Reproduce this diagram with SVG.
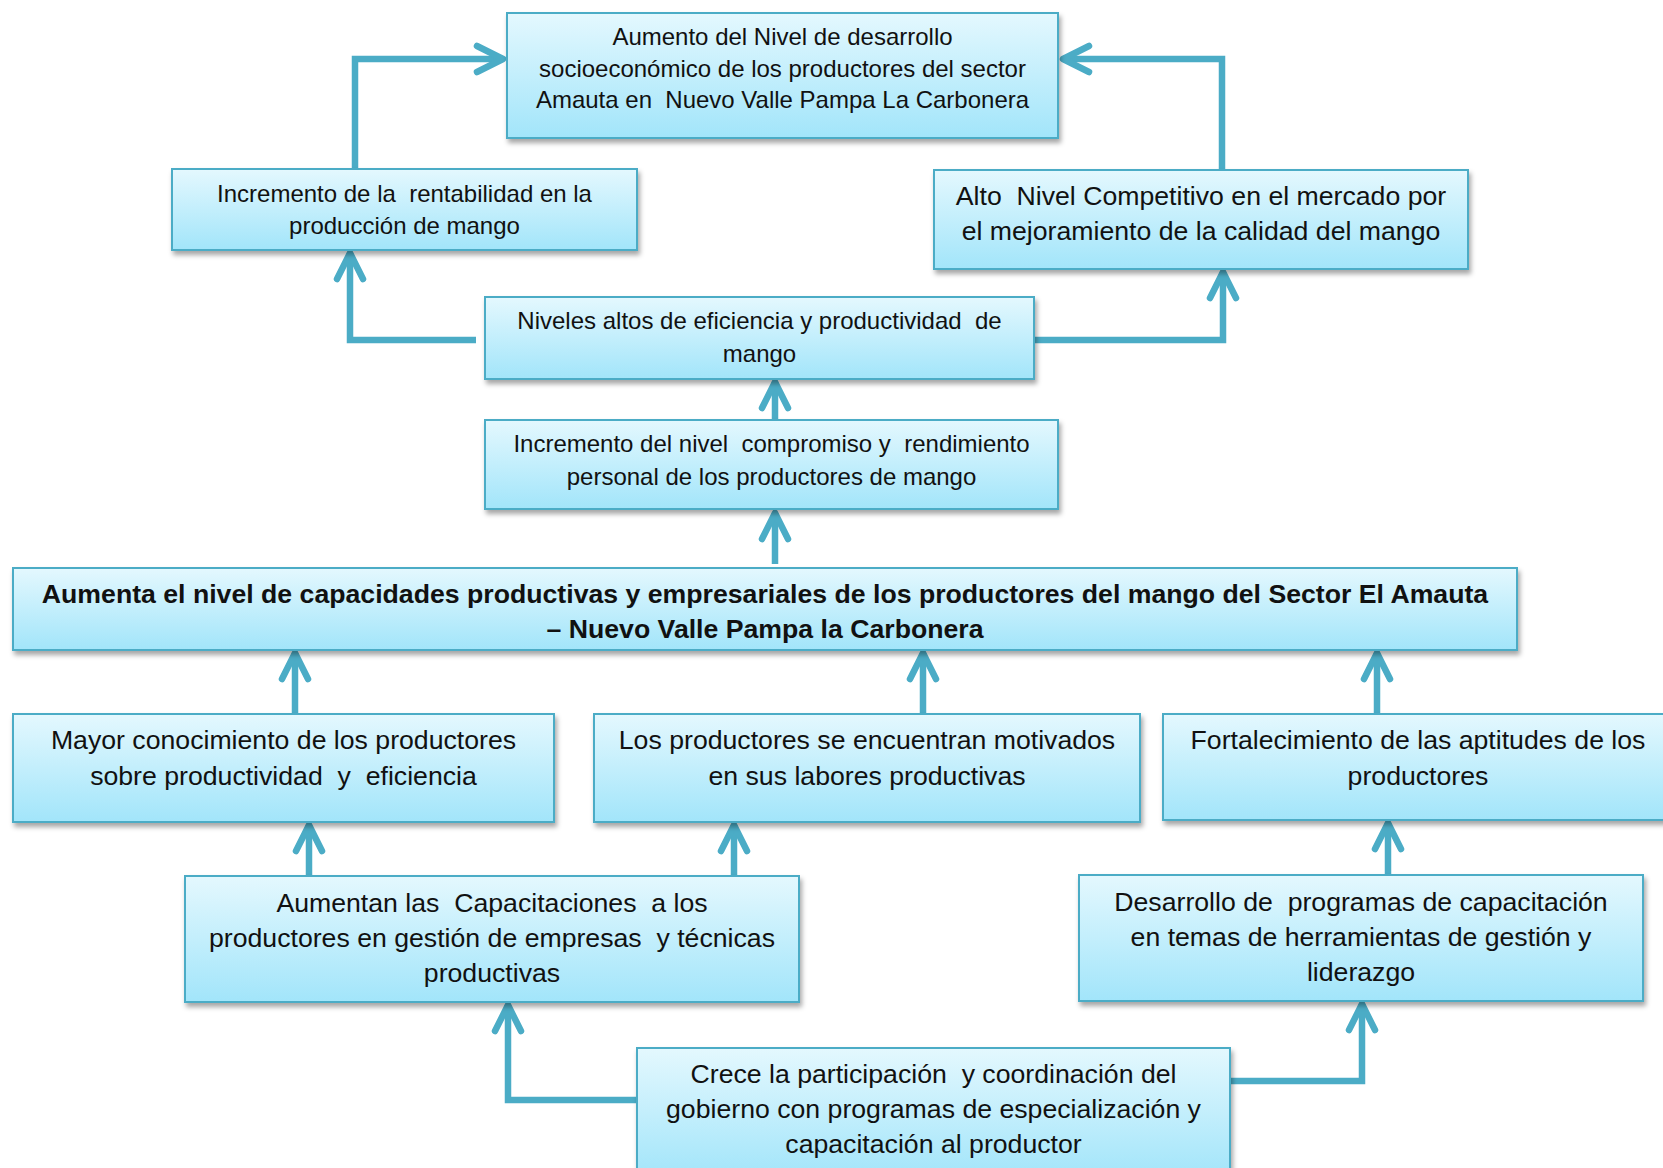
<svg xmlns="http://www.w3.org/2000/svg" width="1663" height="1168" viewBox="0 0 1663 1168">
<defs>
<linearGradient id="g" x1="0" y1="0" x2="0" y2="1">
<stop offset="0" stop-color="#E4F8FE"/>
<stop offset="1" stop-color="#A2E5FA"/>
</linearGradient>
<filter id="sh" x="-5%" y="-10%" width="110%" height="130%">
<feDropShadow dx="2" dy="4" stdDeviation="2.5" flood-color="#000" flood-opacity="0.35"/>
</filter>
<marker id="ah" markerUnits="userSpaceOnUse" viewBox="-32 -20 40 40" refX="0" refY="0" markerWidth="40" markerHeight="40" orient="auto" overflow="visible">
<path d="M-26,-13 L0,0 L-26,13" fill="none" stroke="#4BACC6" stroke-width="6.5" stroke-linecap="round" stroke-linejoin="round"/>
</marker>
<style>
.box{fill:url(#g);stroke:#4BACC6;stroke-width:2;filter:url(#sh)}
.t{font-family:"Liberation Sans",Arial,sans-serif;fill:#111;text-anchor:middle;white-space:pre}
.s{font-size:24px}
.l{font-size:26.67px}
.b{font-weight:bold}
.c{fill:none;stroke:#4BACC6;stroke-width:6.5;stroke-linecap:butt;stroke-linejoin:miter;marker-end:url(#ah)}
</style>
</defs>
<rect width="1663" height="1168" fill="#fff"/>
<g id="connectors">
<path class="c" d="M355 169 V59 H503"/>
<path class="c" d="M1222 170 V59 H1063"/>
<path class="c" d="M476 340 H350 V253"/>
<path class="c" d="M1034 340 H1223 V272"/>
<path class="c" d="M775 420 V382"/>
<path class="c" d="M775 564 V513"/>
<path class="c" d="M295 714 V653"/>
<path class="c" d="M923 714 V653"/>
<path class="c" d="M1377 714 V653"/>
<path class="c" d="M309 876 V825"/>
<path class="c" d="M734 876 V825"/>
<path class="c" d="M1388 875 V823"/>
<path class="c" d="M637 1100 H508 V1005"/>
<path class="c" d="M1230 1081 H1362 V1004"/>
</g>
<g id="n1">
<rect class="box" x="507" y="13" width="551" height="125"/>
<text class="t s" x="782.5" y="45">Aumento del Nivel de desarrollo</text>
<text class="t s" x="782.5" y="76.5">socioeconómico de los productores del sector</text>
<text class="t s" x="782.5" y="108">Amauta en  Nuevo Valle Pampa La Carbonera</text>
</g>
<g id="n2">
<rect class="box" x="172" y="169" width="465" height="81"/>
<text class="t s" x="404.5" y="202">Incremento de la  rentabilidad en la</text>
<text class="t s" x="404.5" y="233.5">producción de mango</text>
</g>
<g id="n3">
<rect class="box" x="934" y="170" width="534" height="99"/>
<text class="t l" x="1201" y="204.5">Alto  Nivel Competitivo en el mercado por</text>
<text class="t l" x="1201" y="239.5">el mejoramiento de la calidad del mango</text>
</g>
<g id="n4">
<rect class="box" x="485" y="297" width="549" height="82"/>
<text class="t s" x="759.5" y="328.5">Niveles altos de eficiencia y productividad  de</text>
<text class="t s" x="759.5" y="361.5">mango</text>
</g>
<g id="n5">
<rect class="box" x="485" y="420" width="573" height="89"/>
<text class="t s" x="771.5" y="451.5">Incremento del nivel  compromiso y  rendimiento</text>
<text class="t s" x="771.5" y="484.5">personal de los productores de mango</text>
</g>
<g id="n6">
<rect class="box" x="13" y="568" width="1504" height="82"/>
<text class="t l b" x="765" y="603">Aumenta el nivel de capacidades productivas y empresariales de los productores del mango del Sector El Amauta</text>
<text class="t l b" x="765" y="638">– Nuevo Valle Pampa la Carbonera</text>
</g>
<g id="n7">
<rect class="box" x="13" y="714" width="541" height="108"/>
<text class="t l" x="283.5" y="748.5">Mayor conocimiento de los productores</text>
<text class="t l" x="283.5" y="785">sobre productividad  y  eficiencia</text>
</g>
<g id="n8">
<rect class="box" x="594" y="714" width="546" height="108"/>
<text class="t l" x="867" y="748.5">Los productores se encuentran motivados</text>
<text class="t l" x="867" y="785">en sus labores productivas</text>
</g>
<g id="n9">
<rect class="box" x="1163" y="714" width="510" height="106"/>
<text class="t l" x="1418" y="748.5">Fortalecimiento de las aptitudes de los</text>
<text class="t l" x="1418" y="785">productores</text>
</g>
<g id="n10">
<rect class="box" x="185" y="876" width="614" height="126"/>
<text class="t l" x="492" y="912">Aumentan las  Capacitaciones  a los</text>
<text class="t l" x="492" y="947">productores en gestión de empresas  y técnicas</text>
<text class="t l" x="492" y="982">productivas</text>
</g>
<g id="n11">
<rect class="box" x="1079" y="875" width="564" height="126"/>
<text class="t l" x="1361" y="911">Desarrollo de  programas de capacitación</text>
<text class="t l" x="1361" y="946">en temas de herramientas de gestión y</text>
<text class="t l" x="1361" y="980.5">liderazgo</text>
</g>
<g id="n12">
<rect class="box" x="637" y="1048" width="593" height="130"/>
<text class="t l" x="933.5" y="1083">Crece la participación  y coordinación del</text>
<text class="t l" x="933.5" y="1118">gobierno con programas de especialización y</text>
<text class="t l" x="933.5" y="1153">capacitación al productor</text>
</g>
</svg>
